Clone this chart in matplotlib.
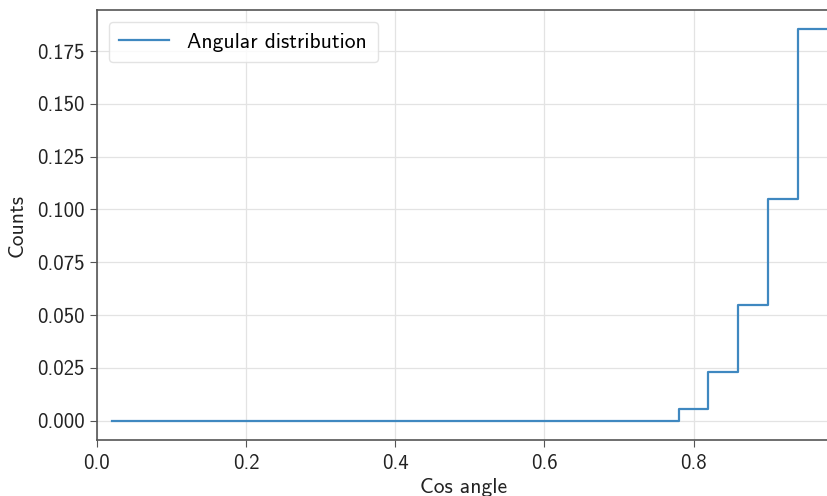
import matplotlib
matplotlib.use("Agg")
import matplotlib.pyplot as plt
import numpy as np

plt.rcParams['font.family'] = ['cmss10', 'DejaVu Sans']
plt.rcParams['axes.formatter.use_mathtext'] = True

# Histogram bin edges (cosine of the angle) and counts per bin
bin_edges = [0.02, 0.06, 0.10, 0.14, 0.18, 0.22, 0.26, 0.30, 0.34, 0.38,
             0.42, 0.46, 0.50, 0.54, 0.58, 0.62, 0.66, 0.70, 0.74, 0.78,
             0.82, 0.86, 0.90, 0.94, 0.98]
bin_counts = [0.0, 0.0, 0.0, 0.0, 0.0, 0.0, 0.0, 0.0, 0.0, 0.0,
              0.0, 0.0, 0.0, 0.0, 0.0, 0.0, 0.0, 0.0, 0.0,
              0.0055, 0.0228, 0.0549, 0.105, 0.1853]

# repeat the last count so the final step reaches the last edge
step_y = bin_counts + [bin_counts[-1]]

fig = plt.figure(figsize=(8.28, 4.96), dpi=100)
ax = fig.add_axes([0.117, 0.112, 0.885, 0.868])

ax.step(bin_edges, step_y, where='post', color='#3f88c0',
        linewidth=1.6, label='Angular distribution')

ax.set_xlim(0.0, 0.9825)
ax.set_ylim(-0.0094, 0.1945)
ax.set_xticks([0.0, 0.2, 0.4, 0.6, 0.8])
ax.set_yticks(np.arange(0, 0.176, 0.025))
ax.xaxis.set_major_formatter(matplotlib.ticker.FormatStrFormatter('%.1f'))
ax.yaxis.set_major_formatter(matplotlib.ticker.FormatStrFormatter('%.3f'))

ax.grid(True, color='#e3e3e3', linewidth=0.9)
ax.set_axisbelow(True)
for side in ['left', 'bottom', 'top']:
    ax.spines[side].set_color('#555555')
    ax.spines[side].set_linewidth(1.2)
ax.spines['right'].set_visible(False)

ax.tick_params(labelsize=15, length=5, color='#555555', labelcolor='#222222')
ax.tick_params(axis='x', pad=5)
ax.tick_params(axis='y', pad=4)
ax.set_xlabel('Cos angle', fontsize=15.5, color='#222222', labelpad=3)
ax.set_ylabel('Counts', fontsize=15.5, color='#222222', labelpad=7)

ax.legend(loc='upper left', fontsize=15.5, frameon=True, fancybox=True,
          edgecolor='#dddddd', handlelength=2.3, handletextpad=0.85,
          borderpad=0.5, borderaxespad=0.55)

fig.savefig('out.png', dpi=100)
